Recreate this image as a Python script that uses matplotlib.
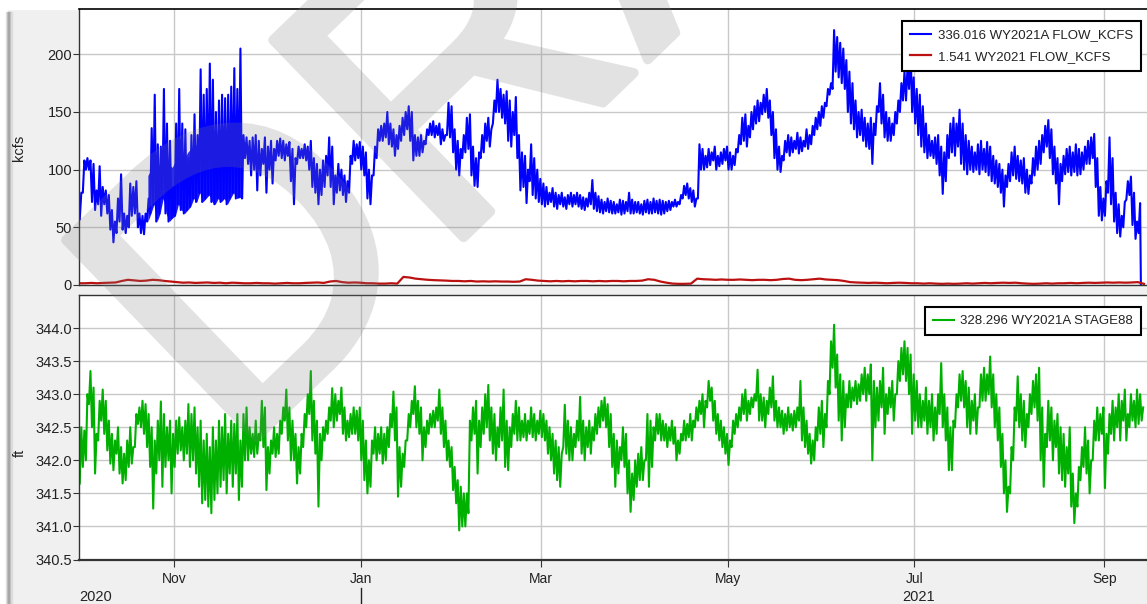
import numpy as np
import pandas as pd
import matplotlib
matplotlib.use('Agg')
import matplotlib.pyplot as plt
import matplotlib.dates as mdates
import matplotlib.transforms as mtransforms
import matplotlib.patheffects as pe
from matplotlib.figure import Figure
from matplotlib.backends.backend_agg import FigureCanvasAgg
from matplotlib.patches import Rectangle
from matplotlib.lines import Line2D

plt.rcParams['font.family'] = ['Liberation Sans', 'DejaVu Sans']

# ---- data (water year 2021, starting 2020-10-01) ----
# daily low / high of 336.016 WY2021A FLOW_KCFS
flow_lo = [
    57, 80, 100, 100, 72, 65, 70, 60, 70, 62, 48, 37, 45, 55, 48, 45, 50, 60, 62, 50, 45, 44, 55, 62, 70, 55, 62, 75, 62, 55, 58,  # oct
    60, 70, 65, 62, 65, 68, 75, 72, 80, 72, 75, 78, 72, 70, 75, 72, 75, 70, 75, 80, 75, 76, 75, 110, 105, 95, 100, 82, 95, 105,  # nov
    80, 100, 88, 108, 112, 110, 108, 112, 90, 70, 105, 110, 110, 108, 100, 85, 80, 70, 78, 85, 95, 85, 70, 80, 82, 78, 72, 80, 105, 108, 110,  # dec
    100, 95, 75, 70, 95, 110, 125, 125, 128, 122, 120, 112, 118, 125, 130, 135, 125, 108, 112, 112, 115, 122, 130, 130, 128, 130, 122, 125, 130, 128, 115,  # jan
    100, 95, 110, 115, 118, 95, 86, 85, 110, 115, 125, 120, 140, 150, 150, 145, 140, 125, 120, 130, 110, 82, 85, 71, 90, 78, 75, 72,  # feb
    70, 68, 70, 72, 68, 66, 70, 68, 66, 70, 68, 70, 68, 66, 65, 68, 70, 66, 64, 63, 62, 64, 63, 62, 62, 63, 61, 62, 64, 62, 62,  # mar
    63, 62, 61, 63, 62, 62, 63, 62, 61, 62, 64, 65, 68, 68, 70, 75, 78, 75, 72, 68, 75, 100, 100, 102, 104, 108, 100, 103, 105, 108,  # apr
    100, 100, 104, 115, 122, 125, 120, 128, 135, 140, 142, 148, 150, 145, 130, 110, 100, 98, 108, 115, 112, 115, 118, 114, 116, 120, 118, 122, 130, 135, 138,  # may
    145, 155, 165, 170, 185, 180, 175, 170, 150, 140, 135, 128, 130, 125, 120, 118, 105, 130, 150, 140, 128, 125, 125, 130, 140, 150, 160, 160, 170, 150,  # jun
    140, 130, 120, 115, 110, 112, 110, 105, 95, 79, 90, 110, 115, 112, 120, 105, 100, 96, 100, 98, 100, 96, 100, 98, 95, 90, 88, 85, 80, 68, 85,  # jul
    90, 95, 92, 90, 88, 80, 79, 88, 95, 100, 105, 115, 120, 110, 96, 88, 70, 90, 96, 98, 95, 98, 95, 96, 100, 105, 105, 110, 85, 60, 56,  # aug
    60, 80, 70, 55, 45, 42, 50, 74, 78, 52, 40, 45,  # sep
]
flow_hi = [
    80, 108, 110, 108, 105, 82, 103, 85, 82, 78, 65, 55, 75, 96, 62, 60, 88, 85, 90, 62, 60, 62, 75, 136, 165, 122, 120, 170, 140, 125, 85,
    140, 170, 140, 135, 110, 130, 148, 130, 187, 165, 170, 192, 178, 150, 160, 165, 162, 165, 172, 188, 170, 205, 130, 128, 125, 128, 130, 125, 118, 128,
    120, 125, 118, 125, 127, 125, 122, 124, 118, 110, 120, 118, 122, 120, 125, 110, 105, 100, 108, 112, 128, 120, 95, 105, 100, 95, 90, 112, 125, 122, 124,
    120, 115, 100, 95, 120, 135, 138, 140, 150, 140, 135, 130, 138, 145, 150, 155, 150, 130, 128, 130, 125, 135, 140, 142, 138, 140, 135, 130, 158, 155, 135,
    125, 118, 130, 145, 148, 120, 110, 115, 130, 140, 145, 135, 160, 178, 170, 165, 168, 160, 150, 163, 130, 115, 112, 100, 122, 110, 100, 92,
    88, 85, 80, 84, 80, 78, 80, 76, 78, 80, 78, 80, 78, 76, 75, 80, 91, 80, 77, 74, 72, 75, 73, 72, 70, 74, 73, 72, 80, 74, 72,
    72, 70, 73, 74, 72, 75, 73, 74, 73, 72, 73, 72, 74, 72, 78, 86, 88, 84, 82, 75, 122, 118, 112, 118, 115, 120, 112, 115, 118, 120,
    115, 112, 118, 130, 145, 148, 138, 150, 155, 160, 158, 165, 170, 160, 150, 135, 120, 112, 125, 130, 128, 125, 132, 128, 125, 135, 130, 138, 145, 150, 155,
    158, 170, 175, 221, 215, 210, 205, 195, 185, 175, 160, 150, 152, 145, 140, 145, 140, 155, 175, 165, 150, 145, 140, 150, 160, 175, 185, 190, 204, 180,
    170, 165, 155, 140, 130, 125, 128, 130, 120, 115, 130, 140, 145, 140, 152, 140, 130, 125, 120, 115, 122, 125, 118, 124, 120, 112, 108, 105, 100, 95, 105,
    115, 120, 112, 108, 110, 100, 95, 110, 120, 125, 130, 138, 143, 135, 120, 110, 105, 112, 118, 120, 115, 122, 118, 115, 120, 125, 128, 131, 110, 85, 75,
    90, 128, 110, 80, 70, 60, 72, 90, 94, 80, 55, 71,
]
flow_end = 0.0  # series drops to zero on 2021-09-13

# top of the dense blue mass, 2020-10-23 .. 2020-11-23
flow_band_start = '2020-10-23'
flow_band_top = [95, 100, 98, 102, 100, 105, 100, 104, 102, 108, 110, 112, 110, 115, 118, 120,
                 122, 125, 122, 125, 128, 126, 125, 128, 130, 128, 126, 130, 128, 130, 128, 125]

# 1.541 WY2021 FLOW_KCFS, every second day
flow2 = [
    1.5, 1.5, 1.8, 1.5, 1.8, 2.0, 2.2, 3.5, 4.5, 4.0, 3.5, 3.8, 4.5, 4.2, 3.5, 3.0,
    2.5, 2.0, 2.2, 1.8, 2.0, 2.2, 1.8, 2.0, 1.5, 2.0, 1.8, 1.5, 1.5, 1.8, 1.5,
    1.5, 1.2, 1.5, 1.8, 1.5, 1.5, 1.8, 2.0, 2.2, 1.8, 3.0, 3.5, 2.5, 2.0, 2.2,
    2.0, 1.5, 1.5, 1.2, 1.2, 1.5, 1.2,
    7.0, 6.5, 5.5, 5.0, 4.5, 4.2, 4.0, 3.8, 3.5,
    3.5, 3.2, 3.5, 3.0, 3.2, 3.0, 3.2, 3.0, 3.0, 2.8, 3.0,
    5.0, 4.5, 3.8,
    3.5, 3.2, 3.5, 3.2, 3.5, 3.2, 3.5, 3.5, 3.2, 3.5, 3.2, 3.5, 3.5, 3.2, 3.5, 3.5, 3.8,
    5.0, 4.5, 3.0, 2.0, 1.2, 1.0, 1.0, 1.2,
    5.5, 5.0, 4.8, 4.5, 4.8, 4.5, 4.5, 4.8, 4.5, 4.2, 4.5,
    4.5, 4.2, 4.5, 5.2, 5.5, 4.5, 4.2, 4.5, 5.0, 5.5, 4.8, 4.5, 4.2, 3.5,
    2.5, 2.2, 2.0, 1.8, 2.0, 1.8, 1.5, 1.8, 2.0, 1.8, 1.5, 1.5, 1.2, 1.5, 1.2, 1.0,
    1.2, 1.0, 1.2, 1.5, 1.2, 1.5, 1.8, 1.5, 1.8, 2.0, 1.8, 2.0, 1.5, 1.2, 1.0, 1.2,
    1.5, 1.2, 1.5, 1.5, 1.8, 1.5, 1.8, 2.0, 1.8, 2.0, 2.2, 2.0, 2.2, 2.0, 2.2, 2.5,
    1.0,
]

# daily low / high of 328.296 WY2021A STAGE88
stage_lo = [
    341.65, 341.9, 342.0, 342.85, 342.5, 341.8, 342.3, 342.6, 342.4, 342.15, 341.95, 341.85, 342.1, 341.8, 341.65, 341.7, 341.9, 341.95, 342.2, 342.55, 342.5, 342.4, 342.2, 341.9, 341.27, 341.8, 342.0, 341.6, 341.9, 342.0, 341.5,
    341.9, 342.1, 342.15, 342.0, 342.1, 341.9, 342.0, 341.8, 341.6, 341.35, 341.4, 341.3, 341.2, 341.4, 341.5, 341.6, 341.7, 341.5, 341.8, 341.6, 341.8, 341.4, 341.6, 342.0, 342.0, 342.1, 342.05, 342.1, 342.3, 342.2,
    341.55, 341.8, 342.1, 342.05, 342.1, 342.4, 342.6, 342.3, 342.0, 342.0, 341.65, 341.8, 342.2, 342.5, 342.7, 342.3, 342.1, 341.3, 342.0, 342.3, 342.4, 342.6, 342.5, 342.6, 342.7, 342.4, 342.3, 342.35, 342.4, 342.4, 342.3,
    342.0, 341.7, 341.5, 341.6, 342.1, 342.0, 342.1, 341.95, 342.0, 342.2, 342.5, 342.3, 341.45, 341.6, 341.9, 342.3, 342.5, 342.7, 342.5, 342.4, 342.0, 342.2, 342.4, 342.5, 342.5, 342.6, 342.4, 342.2, 342.0, 341.9, 341.55,
    341.35, 340.94, 341.0, 341.0, 341.2, 342.3, 342.4, 341.8, 342.2, 342.4, 342.5, 342.3, 342.1, 342.0, 342.2, 342.3, 341.9, 341.85, 342.2, 342.4, 342.3, 342.3, 342.35, 342.3, 342.4, 342.35, 342.3, 342.4,
    342.35, 342.3, 342.1, 342.0, 341.8, 341.7, 341.6, 342.2, 342.1, 342.0, 342.0, 342.2, 342.3, 342.1, 342.0, 342.2, 342.1, 342.3, 342.4, 342.5, 342.6, 342.5, 342.2, 341.9, 341.6, 341.8, 342.0, 341.9, 341.5, 341.22, 341.4,
    341.6, 341.7, 341.7, 342.0, 341.6, 341.9, 342.3, 342.4, 342.3, 342.3, 342.2, 342.3, 342.25, 342.0, 342.1, 342.3, 342.3, 342.35, 342.3, 342.5, 342.6, 342.7, 342.5, 342.8, 342.9, 342.6, 342.4, 342.3, 342.2, 342.1,
    341.93, 342.2, 342.4, 342.5, 342.6, 342.7, 342.6, 342.7, 342.8, 342.9, 342.6, 342.6, 342.5, 342.7, 342.8, 342.6, 342.5, 342.5, 342.4, 342.45, 342.5, 342.45, 342.5, 342.6, 342.3, 342.2, 342.1, 341.95, 342.0, 342.3, 342.4,
    342.2, 342.5, 343.0, 343.4, 343.1, 342.6, 342.3, 342.5, 342.8, 342.8, 342.9, 342.85, 342.9, 343.0, 342.9, 343.0, 342.0, 342.5, 342.6, 342.8, 342.4, 342.7, 342.8, 342.6, 343.0, 343.2, 343.3, 343.2, 343.0, 342.4,
    342.6, 342.5, 342.5, 342.6, 342.4, 342.5, 342.3, 342.4, 342.7, 342.5, 342.3, 341.85, 341.85, 342.5, 342.8, 342.9, 342.8, 342.5, 342.4, 342.6, 342.4, 342.8, 342.9, 342.9, 343.0, 342.8, 342.5, 342.3, 341.9, 341.5, 341.22,
    341.5, 342.0, 342.6, 342.5, 342.3, 342.2, 342.5, 342.7, 342.8, 342.6, 342.0, 341.6, 342.2, 342.3, 342.0, 342.2, 341.8, 341.7, 341.6, 341.8, 341.3, 341.05, 341.3, 341.7, 341.9, 341.8, 341.5, 342.0, 342.3, 342.3, 342.4,
    341.58, 342.1, 342.4, 342.3, 342.5, 342.3, 342.6, 342.3, 342.5, 342.6, 342.5, 342.55, 342.6,
]
stage_hi = [
    342.5, 342.45, 343.0, 343.35, 343.1, 342.4, 342.9, 343.07, 342.9, 342.6, 342.4, 342.3, 342.5, 342.2, 342.1, 342.3, 342.5, 342.2, 342.7, 342.8, 342.9, 342.85, 342.7, 342.5, 342.3, 342.6, 342.89, 342.7, 342.5, 342.6, 342.4,
    342.6, 342.65, 342.5, 342.6, 342.85, 342.7, 342.8, 342.5, 342.6, 342.3, 342.4, 342.2, 342.5, 342.3, 342.6, 342.5, 342.7, 342.4, 342.6, 342.55, 342.7, 342.3, 342.7, 342.8, 342.5, 342.4, 342.6, 342.4, 342.9, 342.8,
    342.2, 342.3, 342.5, 342.4, 342.6, 342.8, 343.07, 342.8, 342.6, 342.4, 342.2, 342.4, 342.7, 343.0, 343.35, 342.9, 342.6, 342.4, 342.5, 342.6, 342.8, 343.09, 343.0, 342.9, 343.1, 342.8, 342.6, 342.7, 342.8, 342.75, 342.8,
    342.6, 342.3, 342.0, 342.3, 342.5, 342.4, 342.5, 342.4, 342.5, 342.7, 343.04, 342.8, 342.2, 342.1, 342.3, 342.7, 342.9, 343.12, 342.9, 342.8, 342.5, 342.6, 342.7, 342.75, 342.8, 343.07, 342.8, 342.6, 342.3, 342.2, 341.9,
    341.7, 341.6, 341.5, 341.5, 342.6, 342.8, 342.9, 342.6, 342.8, 343.0, 343.14, 342.8, 342.7, 342.5, 342.8, 343.07, 342.6, 342.5, 342.7, 342.9, 342.8, 342.6, 342.7, 342.6, 342.8, 342.7, 342.6, 342.75,
    342.7, 342.6, 342.5, 342.4, 342.3, 342.2, 342.1, 342.84, 342.6, 342.5, 342.4, 342.6, 342.96, 342.6, 342.5, 342.6, 342.5, 342.7, 342.8, 342.9, 342.95, 342.85, 342.7, 342.4, 342.3, 342.2, 342.5, 342.4, 342.0, 341.8, 342.0,
    342.1, 342.2, 342.0, 342.7, 342.6, 342.5, 342.7, 342.7, 342.6, 342.55, 342.5, 342.6, 342.5, 342.3, 342.4, 342.6, 342.55, 342.7, 342.6, 342.8, 342.9, 343.0, 342.9, 343.2, 343.1, 342.9, 342.7, 342.6, 342.5, 342.4,
    342.3, 342.6, 342.7, 342.8, 343.0, 343.07, 342.9, 342.95, 343.0, 343.37, 343.0, 342.95, 342.9, 343.1, 343.27, 342.9, 342.8, 342.75, 342.7, 342.8, 342.7, 342.75, 342.8, 343.2, 342.8, 342.6, 342.4, 342.3, 342.5, 342.8, 342.9,
    342.7, 343.2, 343.8, 344.05, 343.6, 343.3, 343.2, 343.0, 343.2, 343.1, 343.2, 343.15, 343.3, 343.4, 343.3, 343.45, 343.2, 343.1, 343.2, 343.4, 343.0, 343.1, 343.2, 343.0, 343.5, 343.7, 343.8, 343.7, 343.6, 343.3,
    343.2, 343.0, 342.9, 343.1, 342.9, 343.0, 342.8, 343.0, 343.47, 343.0, 342.8, 342.5, 342.6, 343.0, 343.3, 343.35, 343.2, 343.1, 342.9, 343.0, 342.8, 343.3, 343.4, 343.3, 343.57, 343.3, 343.0, 342.8, 342.4, 342.0, 341.6,
    342.2, 342.8, 343.27, 343.0, 342.9, 342.7, 343.0, 343.2, 343.3, 343.4, 342.8, 342.4, 342.9, 342.8, 342.6, 342.7, 342.5, 342.4, 342.2, 342.5, 341.8, 341.5, 341.9, 342.2, 342.5, 342.3, 342.0, 342.6, 342.8, 342.7, 342.8,
    342.4, 342.7, 342.9, 342.8, 343.0, 342.9, 343.07, 342.7, 343.0, 342.9, 343.07, 343.0, 342.8,
]

month_ticks = [11, 1, 3, 5, 7, 9]
flow_labels = ['336.016 WY2021A FLOW_KCFS', '1.541 WY2021 FLOW_KCFS']
stage_label = '328.296 WY2021A STAGE88'
start = pd.Timestamp('2020-10-01')
end = pd.Timestamp('2021-09-15')


def zigzag(days, lo, hi):
    # alternate the daily low and high so the line fills the daily range
    t = np.empty(2 * len(days), dtype='datetime64[ns]')
    t[0::2] = (days + pd.Timedelta(hours=6)).values
    t[1::2] = (days + pd.Timedelta(hours=18)).values
    v = np.empty(2 * len(days))
    v[0::2] = lo
    v[1::2] = hi
    return t, v


flow_days = pd.date_range(start, periods=len(flow_hi), freq='D')
t1, v1 = zigzag(flow_days, flow_lo, flow_hi)
t1 = np.append(t1, np.datetime64(flow_days[-1] + pd.Timedelta(days=1)))
v1 = np.append(v1, flow_end)
band_days = pd.date_range(flow_band_start, periods=len(flow_band_top), freq='D')
i0 = flow_days.get_loc(band_days[0])
band_lo = np.array(flow_lo[i0:i0 + len(band_days)])
t2 = pd.date_range(start, periods=len(flow2), freq='2D')
stage_days = pd.date_range(start, periods=len(stage_hi), freq='D')
t3, v3 = zigzag(stage_days, stage_lo, stage_hi)

W, H = 1147, 604
fig = plt.figure(figsize=(W / 100, H / 100), dpi=100, facecolor='#f0f0f0')

# window frame: white strip on top / left, small shadow
fig.add_artist(Rectangle((0, 1 - 9 / H), 1, 9 / H, transform=fig.transFigure, color='white', zorder=-2))
fig.add_artist(Rectangle((0, 0), 7 / W, 1, transform=fig.transFigure, color='white', zorder=-2))
for i, c in enumerate(['#e4e4e4', '#c4c4c4', '#a8a8a8', '#a4a4a4', '#b8b8b8', '#dcdcdc']):
    fig.add_artist(Rectangle(((6 + i) / W, 0), 1 / W, 1 - 12 / H, transform=fig.transFigure,
                             color=c, zorder=-1))

ax1 = fig.add_axes([79 / W, 1 - 285 / H, (W - 79) / W, (285 - 9) / H])
ax2 = fig.add_axes([79 / W, 1 - 559.5 / H, (W - 79) / W, (559.5 - 295) / H])

ax1.fill_between(band_days + pd.Timedelta(hours=12), band_lo, flow_band_top, color='#0000ff', lw=0, alpha=0.9)
ax1.plot(t1, v1, color='#0000ff', lw=1.5, label=flow_labels[0])
ax1.plot(t2, flow2, color='#bb1111', lw=1.6, label=flow_labels[1])
ax2.plot(t3, v3, color='#00b000', lw=1.5, label=stage_label)

ax1.set_ylim(0, 239.3)
ax1.set_yticks([0, 50, 100, 150, 200])
ax2.set_ylim(340.5, 344.5)
ax2.set_yticks(np.arange(340.5, 344.01, 0.5))
ax2.yaxis.set_major_formatter(matplotlib.ticker.FormatStrFormatter('%.1f'))

for ax in (ax1, ax2):
    ax.set_xlim(start, end)
    ax.xaxis.set_major_locator(mdates.MonthLocator(bymonth=month_ticks))
    ax.xaxis.set_major_formatter(mdates.DateFormatter('%b'))
    ax.set_facecolor('white')
    ax.set_axisbelow(True)
    ax.grid(True, color='#c8c8c8', lw=1.0)
    ax.spines['right'].set_visible(False)
    for s in ('left', 'top', 'bottom'):
        ax.spines[s].set_color('#333333')
        ax.spines[s].set_linewidth(1.0)
    ax.tick_params(axis='y', direction='out', length=4, width=0.8, color='#333333',
                   labelsize=10.5, labelcolor='#222222', pad=1)
ax1.tick_params(axis='x', length=0, labelbottom=False)
ax1.spines['top'].set_color('black')
ax1.spines['top'].set_linewidth(1.2)
ax2.spines['bottom'].set_linewidth(1.6)
ax2.tick_params(axis='x', direction='out', length=5, width=0.8, color='#333333',
                labelsize=10, labelcolor='#222222', pad=4)

fig.text(19 / W, 1 - 148 / H, 'kcfs', rotation=90, ha='center', va='center', fontsize=10.5, color='#222222')
fig.text(20 / W, 1 - 453 / H, 'ft', rotation=90, ha='center', va='center', fontsize=10.5, color='#222222')

# year row under the month labels
yr = mtransforms.blended_transform_factory(ax2.transData, fig.transFigure)
fig.text(79 / W, 1 - 597 / H, '2020', ha='left', va='center', fontsize=10.5, color='#222222')
ax2.text(pd.Timestamp('2021-07-02 12:00'), 1 - 597 / H, '2021', transform=yr, ha='center', va='center',
         fontsize=10.5, color='#222222', clip_on=False)
jan = mdates.date2num(pd.Timestamp('2021-01-01'))
fig.add_artist(Line2D([jan, jan], [0, 1 - 588 / H], transform=yr, color='#222222', lw=1.0))

for ax, top in ((ax1, 21), (ax2, 307)):
    leg = ax.legend(loc='upper right', bbox_to_anchor=(1141 / W, 1 - top / H), bbox_transform=fig.transFigure,
                    fontsize=9.5, fancybox=False, framealpha=1, edgecolor='black', borderaxespad=0,
                    borderpad=0.6, labelspacing=0.7, handlelength=1.6, handletextpad=0.5)
    leg.get_frame().set_linewidth(1.5)
    for txt in leg.get_texts():
        txt.set_color('#222222')

# DRAFT watermark: drawn opaque on a scratch canvas, laid over the chart with one alpha
wm = Figure(figsize=(W / 100, H / 100), dpi=100)
FigureCanvasAgg(wm)
wm.patch.set_alpha(0)
wm.text(233 / W, 1 - 460 / H, 'DRAFT', rotation=44, rotation_mode='anchor', ha='left', va='baseline',
        fontsize=287, color='black', family='Liberation Sans',
        path_effects=[pe.withStroke(linewidth=7, foreground='black', joinstyle='round', capstyle='round')])
wm.canvas.draw()
mask = np.asarray(wm.canvas.buffer_rgba())[..., 3] / 255.0
overlay = np.zeros((H, W, 4))
overlay[..., :3] = 0.5
overlay[..., 3] = mask * 0.22
fig.figimage(overlay, xo=0, yo=0, origin='upper', zorder=10)

fig.savefig('out.png', dpi=100, facecolor=fig.get_facecolor())
